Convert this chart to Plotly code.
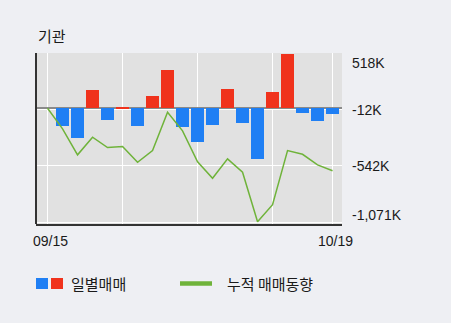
import plotly.graph_objects as go

# ---- data (values in thousands of shares) ----
dates = ["09/15", "09/16", "09/17", "09/23", "09/24", "09/27", "09/28", "09/29", "09/30", "10/01",
         "10/05", "10/06", "10/07", "10/08", "10/12", "10/13", "10/14", "10/15", "10/18", "10/19"]
daily = [0, -163, -276, 172, -107, 12, -163, 115, 359, -172,
         -313, -154, 181, -135, -473, 156, 509, -41, -116, -51]
cumulative = [0, -194, -438, -272, -370, -360, -508, -398, -38, -213,
              -504, -658, -476, -602, -1067, -907, -398, -433, -532, -588]
y_ticks = [518, -12, -542, -1071]
y_tick_labels = ["518K", "-12K", "-542K", "-1,071K"]
x_tick_idx = [0, 5, 10, 15, 19]
legend_labels = ["일별매매", "누적 매매동향"]
title_text = "기관"

BLUE = "#1f7ff4"
RED = "#f0321c"
GREEN = "#6fb33a"
PAGE_BG = "#eeeff3"
PLOT_BG = "#e1e1e1"
FONT = "Liberation Sans, Noto Sans CJK KR, sans-serif"
KFONT = "Noto Sans CJK KR, sans-serif"
TXT = "#1a1a1a"

W, H = 451, 323
L, R, T, B = 36, 109, 53, 99
pw, ph = W - L - R, H - T - B


def px_x(p):
    return (p - L) / pw


def px_y(p):
    return (H - B - p) / ph


x = list(range(len(dates)))
colors = [RED if v > 0 else BLUE for v in daily]

fig = go.Figure()
fig.add_trace(go.Bar(x=x, y=daily, marker=dict(color=colors, line=dict(width=0)),
                     width=0.87, hoverinfo="skip"))
fig.add_trace(go.Scatter(x=x, y=cumulative, mode="lines",
                         line=dict(color=GREEN, width=1.5), hoverinfo="skip"))

tick_text = [dates[i] if i in (0, len(dates) - 1) else "" for i in x_tick_idx]

fig.update_layout(
    width=W, height=H,
    margin=dict(l=L, r=R, t=T, b=B),
    paper_bgcolor=PAGE_BG, plot_bgcolor=PLOT_BG,
    showlegend=False,
    bargap=0,
    font=dict(family=FONT, size=14, color=TXT),
    xaxis=dict(range=[-0.77, 19.63], tickmode="array", tickvals=x_tick_idx,
               ticktext=tick_text, showgrid=True, gridcolor="#ffffff", gridwidth=1,
               showline=True, linecolor="#333333", linewidth=2, ticks="",
               zeroline=False, tickfont=dict(size=14, family=FONT, color=TXT),
               ticklabelshift=3, ticklabelstandoff=3, fixedrange=True),
    yaxis=dict(range=[-1088, 519], tickmode="array", tickvals=y_ticks,
               showticklabels=False, showgrid=True, gridcolor="#ffffff", gridwidth=1,
               zeroline=True, zerolinecolor="#8a8a8a", zerolinewidth=2,
               showline=False, ticks="", fixedrange=True),
)

# left axis line
fig.add_shape(type="line", xref="paper", yref="paper", x0=0, x1=0, y0=0, y1=1,
              line=dict(color="#333333", width=2))

# right-side value labels
for i, (v, t) in enumerate(zip(y_ticks, y_tick_labels)):
    anchor = "top" if i == 0 else ("bottom" if i == len(y_ticks) - 1 else "middle")
    fig.add_annotation(x=1, xref="paper", y=v, yref="y", text=t, showarrow=False,
                       xanchor="left", yanchor=anchor, xshift=8,
                       yshift=(-3 if i == len(y_ticks) - 1 else 0),
                       font=dict(size=14, family=FONT, color=TXT))

# title
fig.add_annotation(x=0, xref="paper", y=1, yref="paper", text=title_text, showarrow=False,
                   xanchor="left", yanchor="middle", yshift=18, xshift=0,
                   font=dict(size=15, family=KFONT, color=TXT))

# legend
fig.add_shape(type="rect", xref="paper", yref="paper", x0=px_x(36), x1=px_x(48),
              y0=px_y(289), y1=px_y(278), fillcolor=BLUE, line=dict(width=0))
fig.add_shape(type="rect", xref="paper", yref="paper", x0=px_x(51), x1=px_x(63),
              y0=px_y(289), y1=px_y(278), fillcolor=RED, line=dict(width=0))
fig.add_annotation(x=px_x(69), xref="paper", y=px_y(283.5), yref="paper",
                   text=legend_labels[0], showarrow=False, xanchor="left", yanchor="middle",
                   font=dict(size=15, family=KFONT, color=TXT))
fig.add_shape(type="line", xref="paper", yref="paper", x0=px_x(180), x1=px_x(212),
              y0=px_y(283.5), y1=px_y(283.5), line=dict(color=GREEN, width=4.5))
fig.add_annotation(x=px_x(225), xref="paper", y=px_y(283.5), yref="paper",
                   text=legend_labels[1], showarrow=False, xanchor="left", yanchor="middle",
                   font=dict(size=15, family=KFONT, color=TXT))

fig.write_html("out.html")
